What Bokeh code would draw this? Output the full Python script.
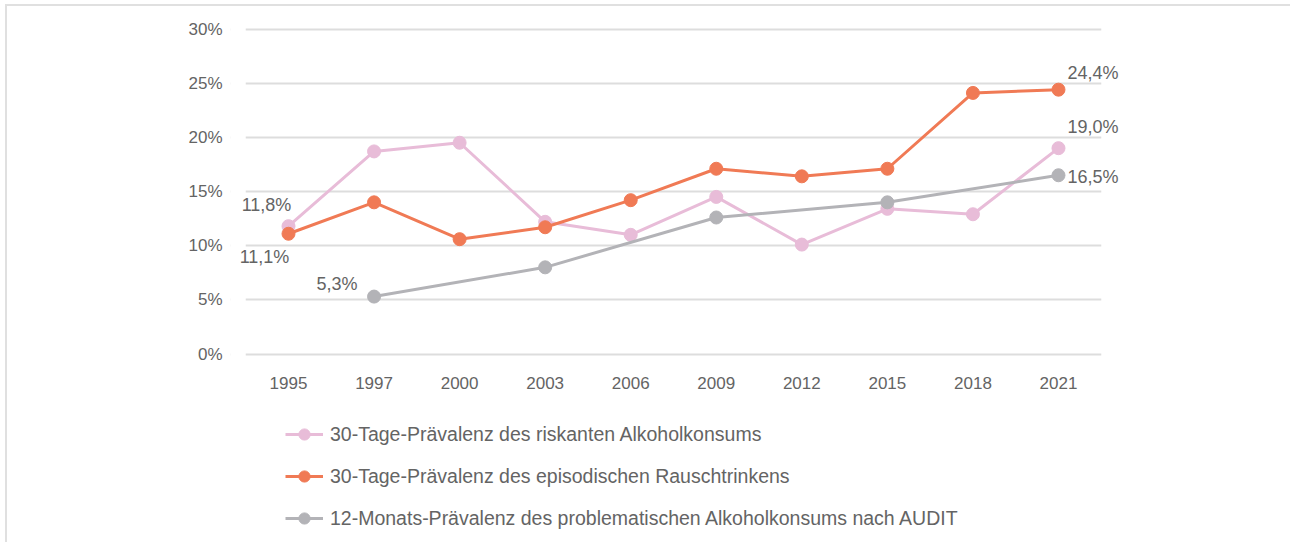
from bokeh.plotting import figure
from bokeh.layouts import column
from bokeh.models import (Range1d, Legend, LegendItem, ColumnDataSource, FixedTicker,
                          CustomJSTickFormatter, LabelSet, BoxAnnotation)
from bokeh.core.properties import value
from bokeh.embed import file_html
from bokeh.resources import INLINE

years = ["1995", "1997", "2000", "2003", "2006", "2009", "2012", "2015", "2018", "2021"]
riskant = [11.8, 18.7, 19.5, 12.2, 11.0, 14.5, 10.1, 13.4, 12.9, 19.0]
rausch = [11.1, 14.0, 10.6, 11.7, 14.2, 17.1, 16.4, 17.1, 24.1, 24.4]
audit_years = ["1997", "2003", "2009", "2015", "2021"]
audit = [5.3, 8.0, 12.6, 14.0, 16.5]
y_ticks = [0, 5, 10, 15, 20, 25, 30]

series_names = [
    "30-Tage-Prävalenz des riskanten Alkoholkonsums",
    "30-Tage-Prävalenz des episodischen Rauschtrinkens",
    "12-Monats-Prävalenz des problematischen Alkoholkonsums nach AUDIT",
]

# value labels
left_lbl_years = ["1995", "1995", "1997"]
left_lbl_vals = [11.8, 11.1, 5.3]
left_lbl_text = ["11,8%", "11,1%", "5,3%"]
right_lbl_years = ["2021", "2021", "2021"]
right_lbl_vals = [24.4, 19.0, 16.5]
right_lbl_text = ["24,4%", "19,0%", "16,5%"]

FONT = "Liberation Sans"
TXT = "#646464"
PINK = "#E8BCD8"
ORANGE = "#F07A55"
GREY = "#B3B3B7"

# category positions on the x scale (one slot per survey year)
pos = {y: i for i, y in enumerate(years)}
xi = [pos[y] for y in years]
xa = [pos[y] for y in audit_years]

p = figure(
    x_range=Range1d(-0.678, 11.712),
    y_range=Range1d(-0.6, 30.6),
    width=1283, height=404,
    min_border_left=223, min_border_right=0,
    min_border_top=16, min_border_bottom=50,
    output_backend="svg", toolbar_location=None,
)
p.outline_line_color = None
p.background_fill_color = "white"
p.border_fill_color = "white"

p.xgrid.grid_line_color = None
p.ygrid.grid_line_color = "#DDDDDD"
p.ygrid.grid_line_width = 2
p.yaxis.ticker = FixedTicker(ticks=y_ticks)
p.yaxis.formatter = CustomJSTickFormatter(code="return tick + '%';")
p.xaxis.ticker = FixedTicker(ticks=xi)
p.xaxis.formatter = CustomJSTickFormatter(args=dict(labels=years),
                                          code="return labels[Math.round(tick)];")

for ax in (p.xaxis[0], p.yaxis[0]):
    ax.axis_line_color = None
    ax.major_tick_line_color = None
    ax.minor_tick_line_color = None
    ax.major_tick_out = 0
    ax.major_tick_in = 0
    ax.major_label_text_font = FONT
    ax.major_label_text_font_size = "17px"
    ax.major_label_text_color = TXT
p.xaxis.major_label_standoff = 16
p.yaxis.major_label_standoff = 8

# keep grid lines within the category band
p.add_layout(BoxAnnotation(right=-0.5, fill_color="white", fill_alpha=1, line_color=None))
p.add_layout(BoxAnnotation(left=len(years) - 0.5, fill_color="white", fill_alpha=1, line_color=None))

s1 = ColumnDataSource(dict(x=xi, y=riskant))
s2 = ColumnDataSource(dict(x=xi, y=rausch))
s3 = ColumnDataSource(dict(x=xa, y=audit))
specs = ((s1, PINK, series_names[0]), (s2, ORANGE, series_names[1]), (s3, GREY, series_names[2]))

for src, col, name in specs:
    p.line("x", "y", source=src, line_color=col, line_width=3)
    p.scatter("x", "y", source=src, size=13, fill_color=col, line_color=col)

ls = ColumnDataSource(dict(x=[pos[y] for y in left_lbl_years], y=left_lbl_vals, t=left_lbl_text,
                           xo=[-22, -24, -37], yo=[21, -23, 13]))
p.add_layout(LabelSet(x="x", y="y", text="t", source=ls, x_offset="xo", y_offset="yo",
                      text_align="center", text_baseline="middle", text_font=value(FONT),
                      text_font_size=value("18px"), text_color=TXT))
rs = ColumnDataSource(dict(x=[pos[y] for y in right_lbl_years], y=right_lbl_vals, t=right_lbl_text,
                           yo=[17, 21, -2]))
p.add_layout(LabelSet(x="x", y="y", text="t", source=rs, x_offset=9, y_offset="yo",
                      text_align="left", text_baseline="middle", text_font=value(FONT),
                      text_font_size=value("18px"), text_color=TXT))

# legend strip below the chart
q = figure(width=1283, height=132, x_range=Range1d(100, 101), y_range=Range1d(100, 101),
           x_axis_type=None, y_axis_type=None, min_border=0,
           output_backend="svg", toolbar_location=None)
q.outline_line_color = None
q.grid.grid_line_color = None
q.background_fill_color = "white"
q.border_fill_color = "white"
items = []
for src, col, name in specs:
    l = q.line("x", "y", source=src, line_color=col, line_width=3)
    c = q.scatter("x", "y", source=src, size=13, fill_color=col, line_color=col)
    items.append(LegendItem(label=name, renderers=[l, c]))
legend = Legend(items=items, location=(55, 10), orientation="vertical",
                padding=0, margin=0, spacing=14, glyph_width=38, glyph_height=28,
                label_height=28, label_standoff=7, border_line_color=None,
                background_fill_alpha=0,
                label_text_font=FONT, label_text_font_size="19.5px", label_text_color=TXT)
q.add_layout(legend, "center")

layout = column(p, q, spacing=0,
                styles={"border-top": "2px solid #e0e0e0", "border-left": "2px solid #e0e0e0",
                        "margin-left": "5px", "margin-top": "4px"})

open("out.html", "w").write(file_html(layout, INLINE))
